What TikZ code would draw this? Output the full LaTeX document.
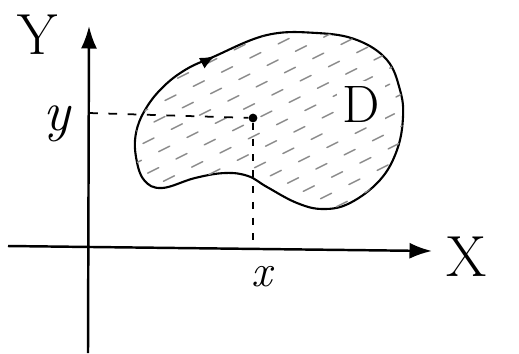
\documentclass[tikz,border=0pt]{standalone}
\usepackage{tikz}
\usetikzlibrary{arrows.meta}

\begin{document}
\begin{tikzpicture}[x=0.02cm,y=-0.02cm,
  ax/.style={-{Latex[length=4.5mm,width=3.2mm]},line width=1.4pt},
  rim/.style={line width=1.2pt},
  hatch/.style={black!45,line width=0.8pt,dash pattern=on 7pt off 11pt,line cap=round},
  guide/.style={line width=1pt,dash pattern=on 5pt off 6pt},
  lbl/.style={inner sep=0pt,font=\fontsize{#1}{#1}\selectfont}]
\useasboundingbox (0,0) rectangle (519,353);
% axes
\coordinate (xs) at (8,246);
\coordinate (xe) at (432,251);
\coordinate (ys) at (88,353);
\coordinate (ye) at (89,26);
\draw[ax] (xs) -- (xe);
\draw[ax] (ys) -- (ye);
\node[lbl=33] (xlab) at (467,257) {X};
\node[lbl=33] (ylab) at (38,35) {Y};
% the region D
\draw[rim,save path=\blob] plot[smooth cycle,tension=0.65] coordinates {
  (213,57) (267,35) (317,33) (357,40) (387,60) (400,90) (403,117)
  (397,150) (380,180) (350,203) (323,209) (297,203) (267,187) (248,176)
  (225,173) (195,178) (162,188) (144,180) (136,157) (136,133) (145,110)
  (162,88) (185,70)};
\begin{scope}
  \clip[use path=\blob];
  \foreach \i [evaluate=\i as \ph using {mod(\i*7,17)}] in {0,...,19}
    \draw[hatch,dash phase=\ph pt] (110,48+\i*16) -- ++(330,-165);
\end{scope}
\draw[rim,-{Latex[length=3mm,width=2.4mm]}] (203,62.5) -- (215,56);
\node[lbl=30,fill=white,inner sep=3pt] (dlab) at (361,104) {D};
% the point and its coordinates
\node[circle,fill,inner sep=0pt,minimum size=5pt] (P) at (253,118) {};
\coordinate (yt) at (89,113);
\coordinate (xt) at (253,250);
\draw[guide] (yt) -- (P);
\draw[guide,dash pattern=on 4pt off 5pt] (P) -- (xt);
\node[lbl=26] (xval) at (262,277) {\itshape x};
\node[lbl=32] (yval) at (57,124) {\itshape y};
\end{tikzpicture}
\end{document}
